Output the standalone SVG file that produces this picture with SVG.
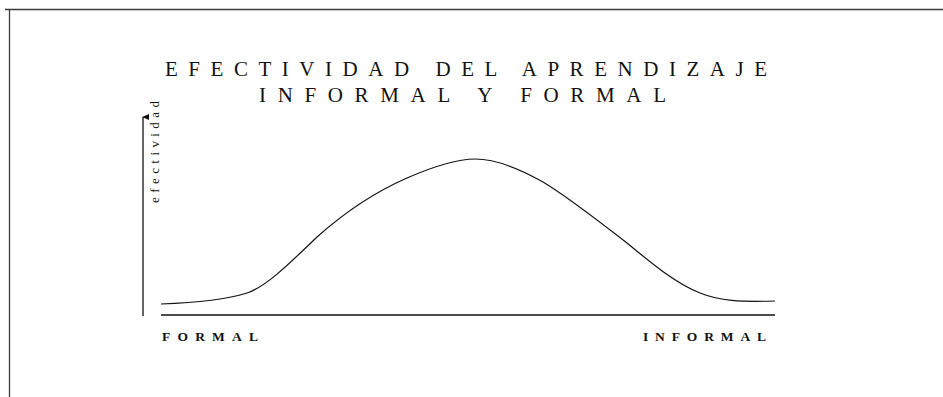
<svg xmlns="http://www.w3.org/2000/svg" width="943" height="397" viewBox="0 0 943 397">
<style>
.frame{stroke:#3a3a3a;stroke-width:1.3;fill:none}
.ax{stroke:#111;stroke-width:1.3;fill:none}
.curve{stroke:#111;stroke-width:1.2;fill:none}
.title{font-family:"Liberation Serif","Times New Roman",serif;font-size:21px;fill:#111}
.lbl{font-family:"Liberation Serif","Times New Roman",serif;font-size:13.5px;font-weight:bold;fill:#111}
.ylbl{font-family:"Liberation Serif","Times New Roman",serif;font-size:13px;fill:#111}
</style>
<defs>
<marker id="arr" markerWidth="6" markerHeight="8" refX="3" refY="1" orient="auto-start-reverse" markerUnits="userSpaceOnUse" viewBox="0 0 6 8">
<path d="M0,7 L3,0 L6,7 Z" fill="#111"/>
</marker>
</defs>
<rect width="943" height="397" fill="#fff"/>
<g id="frame">
<line class="frame" x1="5" y1="9.5" x2="943" y2="9.5"/>
<line class="frame" x1="9.5" y1="9.5" x2="9.5" y2="397"/>
</g>
<g id="title">
<text class="title" x="165" y="76" textLength="602" lengthAdjust="spacing">EFECTIVIDAD DEL APRENDIZAJE</text>
<text class="title" x="259" y="102" textLength="407" lengthAdjust="spacing">INFORMAL Y FORMAL</text>
</g>
<g id="connectors">
<line class="ax" x1="143" y1="316" x2="143" y2="117" marker-end="url(#arr)"/>
<line class="ax" x1="161" y1="315" x2="775" y2="315"/>
<path class="curve" d="M161,304 C190,303 225,300 247,293 C265,287 285,268 317,237 C345,212 375,192 407,178 C430,168 455,159 475,159 C495,159 520,169 543,182 C565,195 600,222 627,243 C650,262 675,283 700,293 C720,301 740,302 775,301"/>
</g>
<g id="y-label">
<text class="ylbl" transform="translate(159,203) rotate(-90)" x="0" y="0" textLength="102" lengthAdjust="spacing">efectividad</text>
</g>
<g id="formal">
<text class="lbl" x="162" y="341" textLength="96" lengthAdjust="spacing">FORMAL</text>
</g>
<g id="informal">
<text class="lbl" x="643" y="341" textLength="123" lengthAdjust="spacing">INFORMAL</text>
</g>
</svg>
